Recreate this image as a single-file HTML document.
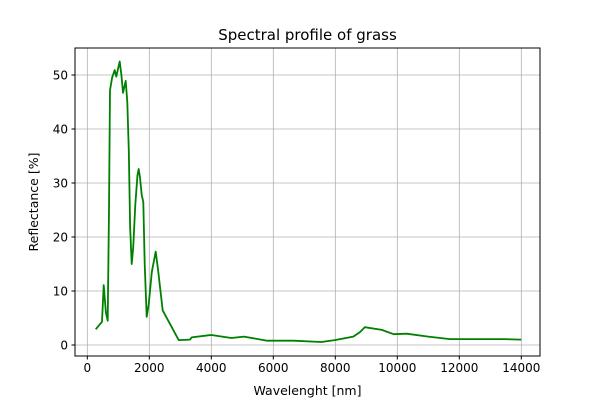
<!DOCTYPE html>
<html><head><meta charset="utf-8"><style>
body{margin:0;background:#fff;font-family:"Liberation Sans","DejaVu Sans",sans-serif}
svg text{font-family:"DejaVu Sans","Liberation Sans",sans-serif;fill:#000}
</style></head><body>
<svg id="chart" width="600" height="400" viewBox="0 0 600 400">
<rect width="600" height="400" fill="#fff"/>
<g id="grid"></g><g id="ticks"></g>
<polyline id="line" fill="none" stroke="#008000" stroke-width="1.8" stroke-linejoin="round"/>
<rect x="75" y="48" width="465" height="308" fill="none" stroke="#000" stroke-width="1"/>
<text x="307.5" y="40" font-size="15" text-anchor="middle">Spectral profile of grass</text>
<text x="307.5" y="395" font-size="12.5" text-anchor="middle">Wavelenght [nm]</text>
<text transform="translate(38,202) rotate(-90)" font-size="12.5" text-anchor="middle">Reflectance [%]</text>
</svg>
<script>
const wavelengths=[270,475,530,600,658,700,732,800,883,935,1045,1100,1152,1238,1290,1340,1380,1432,1480,1550,1620,1658,1700,1755,1806,1850,1916,1980,2080,2206,2280,2432,2948,3313,3368,3903,4000,4650,5050,5800,6650,7550,7980,8580,8800,8950,9500,9880,10300,11000,11700,12500,13380,14000];
const reflectance=[2.9,4.3,11.1,6,4.5,25,47.2,49.5,50.9,49.7,52.5,50,46.7,48.9,45,36,22,15,18,26,31.5,32.6,31,27.8,26.5,15,5.2,7.5,13.5,17.3,14,6.4,0.9,1.0,1.4,1.8,1.85,1.3,1.55,0.8,0.8,0.55,0.9,1.55,2.4,3.3,2.8,2.0,2.1,1.55,1.1,1.1,1.1,1.0];
const xTicks=[0,2000,4000,6000,8000,10000,12000,14000];
const yTicks=[0,10,20,30,40,50];
const X=w=>87.3+w*0.031, Y=r=>345-r*5.4;
const ns="http://www.w3.org/2000/svg";
const grid=document.getElementById('grid'), ticks=document.getElementById('ticks');
function mk(tag,attrs,parent){const e=document.createElementNS(ns,tag);for(const k in attrs)e.setAttribute(k,attrs[k]);parent.appendChild(e);return e;}
xTicks.forEach(t=>{const x=X(t);
 const g=mk('line',{x1:x,x2:x,y1:48,y2:356,stroke:'#b0b0b0','stroke-width':0.8},grid);
 
 
 mk('line',{x1:x,x2:x,y1:356,y2:359.5,stroke:'#000'},ticks);
 const tx=mk('text',{x:x,y:372,'font-size':12,'text-anchor':'middle'},ticks);tx.textContent=t;
 
 });
yTicks.forEach(t=>{const y=Y(t);
 const g=mk('line',{x1:75,x2:540,y1:y,y2:y,stroke:'#b0b0b0','stroke-width':0.8},grid);
 
 
 mk('line',{x1:71.5,x2:75,y1:y,y2:y,stroke:'#000'},ticks);
 const tx=mk('text',{x:68,y:y+4.3,'font-size':12,'text-anchor':'end'},ticks);tx.textContent=t;
 
 });
document.getElementById('line').setAttribute('points',wavelengths.map((w,i)=>X(w).toFixed(1)+','+Y(reflectance[i]).toFixed(1)).join(' '));
</script>
</body></html>
